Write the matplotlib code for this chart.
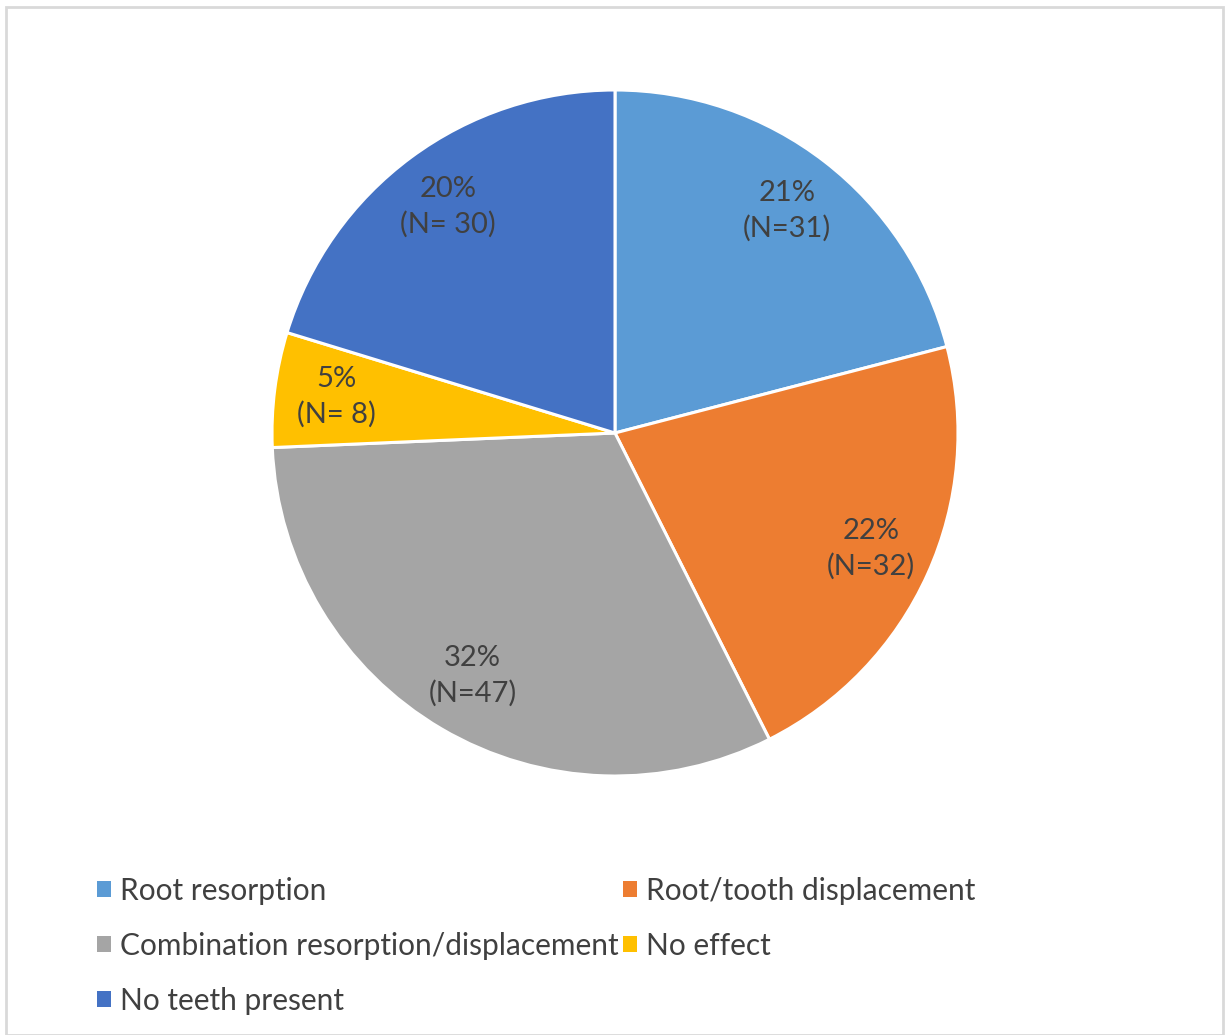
import matplotlib.pyplot as plt
from matplotlib.patches import Rectangle, Patch

# -------- DATA --------
categories = ["Root resorption", "Root/tooth displacement",
              "Combination resorption/displacement", "No effect",
              "No teeth present"]
counts = [31, 32, 47, 8, 30]
pct_labels = ["21%\n(N=31)", "22%\n(N=32)", "32%\n(N=47)", "5%\n(N= 8)", "20%\n(N= 30)"]
colors = ["#5B9BD5", "#ED7D31", "#A5A5A5", "#FFC000", "#4472C4"]
# ----------------------

TEXT_COLOR = "#404040"
plt.rcParams["font.family"] = ["Lato", "DejaVu Sans"]

W, H = 1225, 1035
fig = plt.figure(figsize=(W / 100, H / 100), dpi=100)

# light grey frame around the chart area
fig.patches.append(Rectangle((6 / W, 0), 1 - 8 / W, 1 - 7 / H, transform=fig.transFigure,
                             fill=False, edgecolor="#D9D9D9", linewidth=2))

cx, cy, r = 615, 433, 343
ax = fig.add_axes([(cx - r) / W, (H - cy - r) / H, 2 * r / W, 2 * r / H])
wedges, texts = ax.pie(counts, colors=colors, labels=pct_labels, startangle=90,
                       counterclock=False, labeldistance=0.82,
                       wedgeprops=dict(edgecolor="white", linewidth=2.2),
                       textprops=dict(color=TEXT_COLOR, fontsize=21,
                                      ha="center", va="center", linespacing=1.4))
for t in texts:
    t.set_horizontalalignment("center")
ax.set_xlim(-1, 1)
ax.set_ylim(-1, 1)
ax.set_aspect("equal")

# legend: two columns, filled row by row
order = [0, 2, 4, 1, 3]
handles = [Patch(facecolor=colors[i], edgecolor="none") for i in order]
labels = [categories[i] for i in order]
fig.legend(handles, labels, ncol=2, loc="upper left",
           bbox_to_anchor=(70 / W, 1 - 850 / H), frameon=False,
           fontsize=21.5, labelcolor=TEXT_COLOR, handlelength=0.47,
           handleheight=0.47, handletextpad=0.3, columnspacing=0.15,
           labelspacing=0.9)

fig.savefig("out.png", dpi=100, facecolor="white")
